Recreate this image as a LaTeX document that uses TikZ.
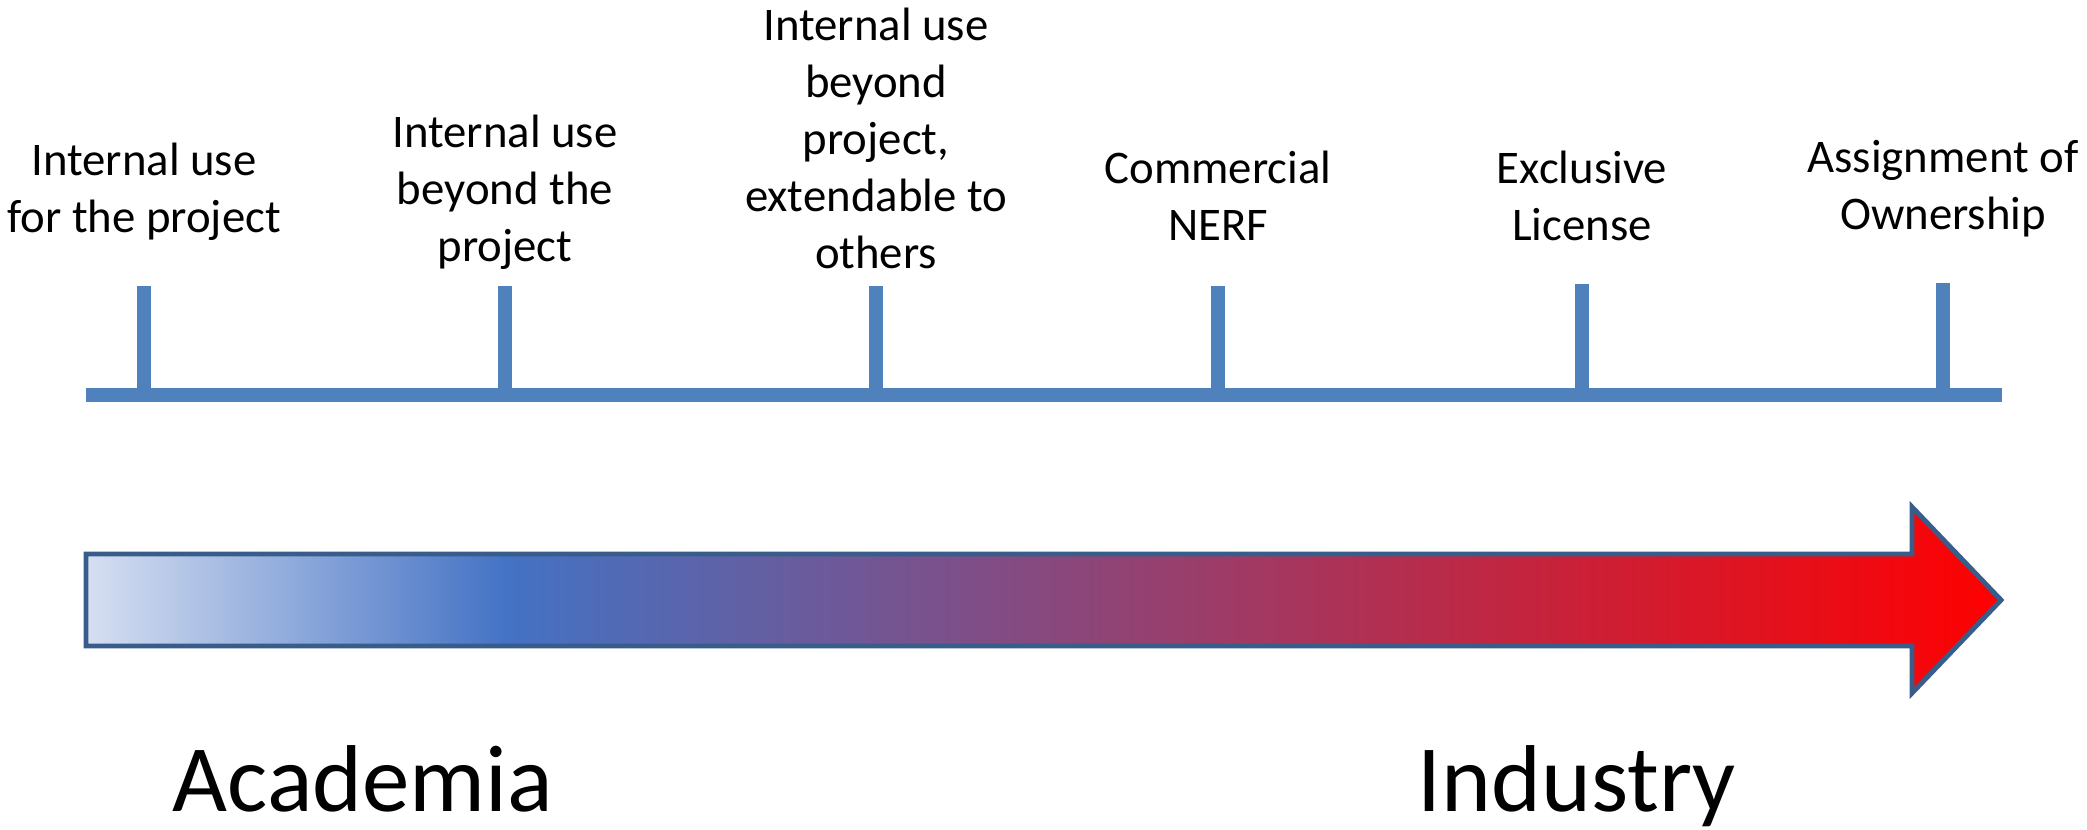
\documentclass[tikz,border=0pt]{standalone}
\usepackage{fontspec}
\setmainfont{Carlito}
\definecolor{barblue}{RGB}{79,129,189}
\definecolor{edgeblue}{RGB}{56,93,138}
\definecolor{paleblue}{RGB}{214,223,241}
\definecolor{midblue}{RGB}{68,114,196}
\pgfdeclarehorizontalshading{acadind}{100bp}{color(0bp)=(paleblue); color(25bp)=(paleblue); color(36bp)=(midblue); color(75bp)=(red); color(100bp)=(red)}
\begin{document}
\begin{tikzpicture}[x=0.01cm, y=-0.01cm,
  lbl/.style={anchor=north, inner sep=0, align=center, font=\fontsize{13.3}{16.2}\selectfont},
  big/.style={anchor=base west, inner sep=0, font=\fontsize{27}{32}\selectfont},
  tick/.style={draw=barblue, line width=4pt}]
\useasboundingbox (0,0) rectangle (2087,829);
% time line
\coordinate (barl) at (86,395);
\coordinate (barr) at (2002,395);
\draw[tick] (barl) -- (barr);
\coordinate (tk1) at (144,286);
\coordinate (tk2) at (505,286);
\coordinate (tk3) at (876,286);
\coordinate (tk4) at (1218,286);
\coordinate (tk5) at (1582,284);
\coordinate (tk6) at (1943,283);
\draw[tick] (tk1) -- (tk1 |- barl);
\draw[tick] (tk2) -- (tk2 |- barl);
\draw[tick] (tk3) -- (tk3 |- barl);
\draw[tick] (tk4) -- (tk4 |- barl);
\draw[tick] (tk5) -- (tk5 |- barl);
\draw[tick] (tk6) -- (tk6 |- barl);
\node[lbl] (lab1) at (144,142) {Internal use\\for the project};
\node[lbl] (lab2) at (505,114) {Internal use\\beyond the\\project};
\node[lbl] (lab3) at (876,7) {Internal use\\beyond\\project,\\extendable to\\others};
\node[lbl] (lab4) at (1218,150) {Commercial\\NERF};
\node[lbl] (lab5) at (1582,150) {Exclusive\\License};
\node[lbl] (lab6) at (1943,140) {Assignment of\\Ownership};
% big arrow
\shadedraw[shading=acadind, draw=edgeblue, line width=1.4pt]
  (86,554) -- (1912,554) -- (1912,507) -- (2001,600) -- (1912,693)
  -- (1912,646) -- (86,646) -- cycle;
\node[big] (acad) at (172,811) {Academia};
\node[big] (ind) at (1417,811) {Industry};
\end{tikzpicture}
\end{document}
